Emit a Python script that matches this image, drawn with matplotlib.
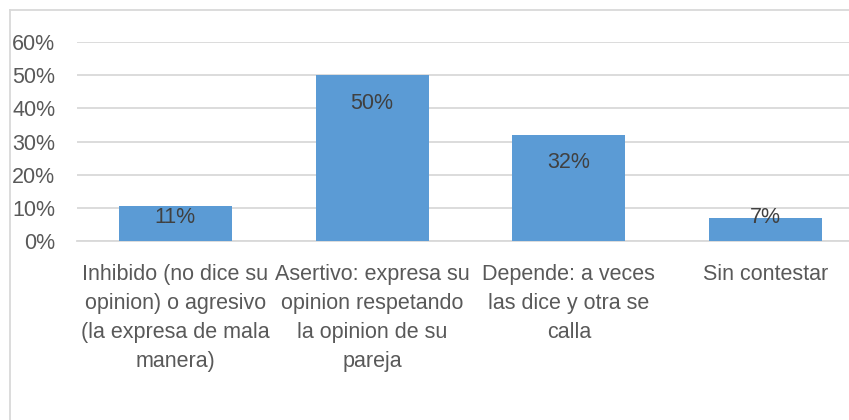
import matplotlib.pyplot as plt
from matplotlib.lines import Line2D
from matplotlib.ticker import PercentFormatter
from matplotlib import font_manager

# Data
categories = ["Inhibido (no dice su\nopinion) o agresivo\n(la expresa de mala\nmanera)",
              "Asertivo: expresa su\nopinion respetando\nla opinion de su\npareja",
              "Depende: a veces\nlas dice y otra se\ncalla",
              "Sin contestar"]
values = [0.106, 0.50, 0.32, 0.07]
value_labels = ["11%", "50%", "32%", "7%"]
y_ticks = [0, 0.1, 0.2, 0.3, 0.4, 0.5, 0.6]

# Font: pick a narrow one if available
names = {f.name for f in font_manager.fontManager.ttflist}
fam = 'Liberation Sans Narrow' if 'Liberation Sans Narrow' in names else 'Liberation Sans'
plt.rcParams['font.family'] = [fam, 'DejaVu Sans']

W, H = 849, 420
fig = plt.figure(figsize=(W / 100, H / 100), dpi=100)
# plot area runs past the right edge of the picture (cropped chart)
ax = fig.add_axes([77 / W, 1 - 241 / H, (864 - 77) / W, (241 - 42) / H])

x = range(len(categories))
ax.bar(x, values, width=0.574, color='#5B9BD5', zorder=3)

# Labels inside the end of each bar (Excel style)
for i, (v, lab) in enumerate(zip(values, value_labels)):
    ax.text(i, max(v - 0.084, 0.072), lab, ha='center', va='center',
            fontsize=15.5, color='#404040', zorder=4)

ax.set_xlim(-0.5, 3.5)
ax.set_ylim(0, 0.6)
ax.set_yticks(y_ticks)
ax.yaxis.set_major_formatter(PercentFormatter(1.0, decimals=0))
ax.grid(axis='y', color='#D9D9D9', linewidth=1.3, zorder=0)
for s in ['top', 'right', 'left']:
    ax.spines[s].set_visible(False)
ax.spines['bottom'].set_color('#D9D9D9')
ax.spines['bottom'].set_linewidth(1.3)
ax.tick_params(axis='y', length=0, pad=15.5, labelsize=15.5, labelcolor='#595959')
ax.tick_params(axis='x', length=0, pad=16.5, labelsize=15.5, labelcolor='#595959')
ax.set_xticks(list(x))
ax.set_xticklabels(categories, linespacing=1.5, va='top')

# Chart area border (left and top visible)
fig.add_artist(Line2D([9.5 / W, 9.5 / W], [0, 1 - 10 / H], transform=fig.transFigure,
                      color='#D9D9D9', linewidth=1.3))
fig.add_artist(Line2D([9.5 / W, 1], [1 - 10 / H, 1 - 10 / H], transform=fig.transFigure,
                      color='#D9D9D9', linewidth=1.3))

fig.savefig('out.png', dpi=100)
